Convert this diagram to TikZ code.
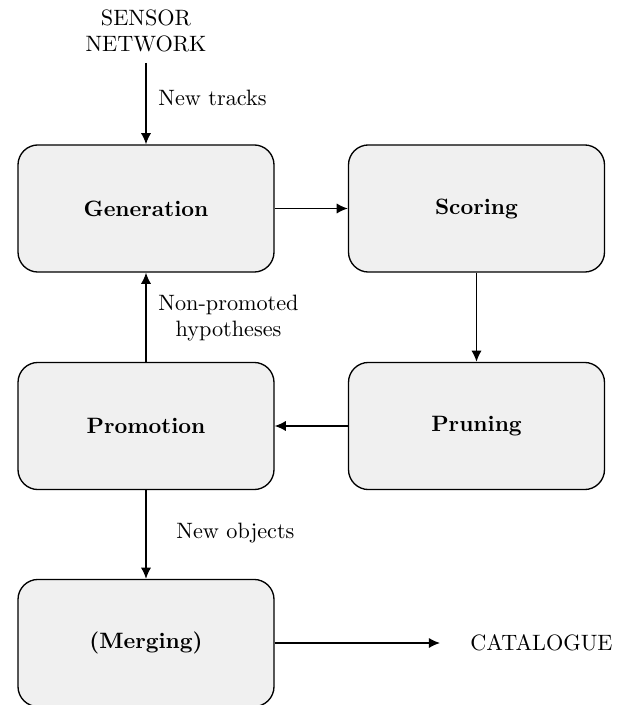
\documentclass[tikz,border=0pt]{standalone}
\usetikzlibrary{arrows.meta}
\definecolor{boxfill}{RGB}{240,240,240}
\begin{document}
\begin{tikzpicture}[x=0.45pt,y=-0.45pt,
  stagebox/.style={draw=black, fill=boxfill, line width=0.6pt, rounded corners=9pt,
    minimum width=115.2pt, minimum height=57.2pt, inner sep=0pt, font=\bfseries},
  plain/.style={align=center, inner sep=0pt},
  flow/.style={-{Latex[length=5pt,width=4.6pt]}, line width=0.65pt}]
\useasboundingbox (0,0) rectangle (629,705);
\node[stagebox] (gen) at (146,208.5) {Generation};
\node[stagebox] (sco) at (476.5,208.5) {Scoring};
\node[stagebox] (pro) at (146,426) {Promotion};
\node[stagebox] (pru) at (476.5,426) {Pruning};
\node[stagebox] (mer) at (146,643) {(Merging)};
\node[plain] (sensor) at (146,31) {SENSOR\\NETWORK};
\node[plain, anchor=west] (cat) at (470,643) {CATALOGUE};
\coordinate (sensorend) at (146,63);
\coordinate (catend) at (440,643);
\draw[flow] (sensorend) -- (gen.north);
\draw[flow] (gen.east) -- (sco.west);
\draw[flow] (sco.south) -- (pru.north);
\draw[flow] (pru.west) -- (pro.east);
\draw[flow] (pro.north) -- (gen.south);
\draw[flow] (pro.south) -- (mer.north);
\draw[flow] (mer.east) -- (catend);
\node[plain, anchor=west] (lnt) at (158,98) {New tracks};
\node[plain] (lnp) at (228.5,318) {Non-promoted\\hypotheses};
\node[plain, anchor=west] (lno) at (176,533) {New objects};
\end{tikzpicture}
\end{document}
